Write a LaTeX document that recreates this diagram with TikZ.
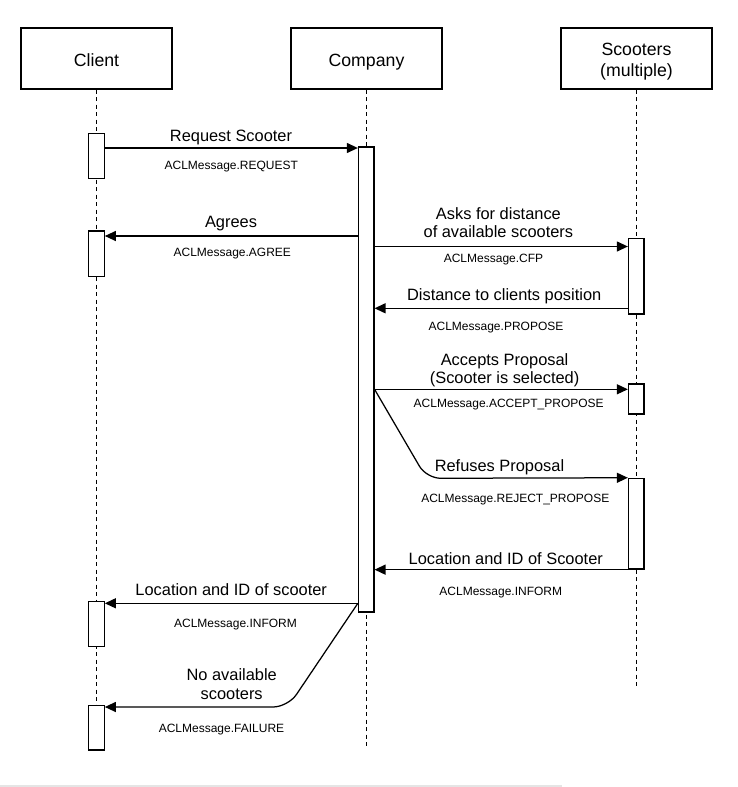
\documentclass[tikz,border=0pt]{standalone}
\usepackage{fontspec}
\setmainfont{Liberation Sans}
\usetikzlibrary{arrows.meta}
\begin{document}
\begin{tikzpicture}[x=1pt,y=-1pt,
  headbox/.style={draw=black,line width=1.2pt,fill=white,minimum width=151pt,minimum height=61pt,inner sep=0pt},
  htxt/.style={font=\fontsize{17.7}{21}\selectfont,inner sep=0pt,anchor=base,align=center},
  mtxt/.style={font=\fontsize{16.4}{18.3}\selectfont,inner sep=0pt,anchor=base,align=center},
  stxt/.style={font=\fontsize{12}{14}\selectfont,inner sep=0pt,anchor=base},
  life/.style={draw=black,line width=1.1pt,dash pattern=on 4pt off 3.5pt},
  act/.style={draw=black,line width=1.2pt,fill=white,minimum width=15.5pt,inner sep=0pt},
  msg/.style={draw=black,line width=1.25pt,-{Triangle[length=11pt,width=10pt]}},
]
\useasboundingbox (0,0) rectangle (738,787);
\fill[white] (0,0) rectangle (738,787);
\draw[black!10,line width=1.5pt] (0,786) -- (562,786);

% headers
\node[headbox] (client) at (96.5,58.5) {};
\node[headbox] (company) at (366.5,58.5) {};
\node[headbox] (scooters) at (636.5,58.5) {};
\node[htxt] (clientlbl) at (96.5,66.7) {Client};
\node[htxt] (companylbl) at (366.5,66.7) {Company};
\node[htxt] (scooterslbl) at (636.5,76) {Scooters\\(multiple)};

% lifeline ends
\coordinate (clientEnd) at (96.5,750);
\coordinate (companyEnd) at (366.2,748);
\coordinate (scootersEnd) at (636.2,688);
\draw[life] (client.south -| clientEnd) -- (clientEnd);
\draw[life] (company.south -| companyEnd) -- (companyEnd);
\draw[life] (scooters.south -| scootersEnd) -- (scootersEnd);

% activations
\node[act,minimum height=45.4pt] (cA1) at (96.5,156) {};
\node[act,minimum height=45.7pt] (cA2) at (96.5,253.8) {};
\node[act,minimum height=45pt] (cA3) at (96.5,624.2) {};
\node[act,minimum height=44.7pt] (cA4) at (96.5,727.7) {};
\node[act,minimum height=465pt] (coA) at (366.2,379.5) {};
\node[act,minimum height=75.7pt] (sA1) at (636.2,276.2) {};
\node[act,minimum height=30pt] (sA2) at (636.2,399) {};
\node[act,minimum height=90.7pt] (sA3) at (636.2,523.7) {};

% message rows
\coordinate (m1) at (0,148);
\coordinate (m2) at (0,236);
\coordinate (m3) at (0,246.5);
\coordinate (m4) at (0,308.3);
\coordinate (m5) at (0,389.3);
\coordinate (m8) at (0,603.3);
\coordinate (m9) at (0,707);
\coordinate (rejCorner) at (426.5,478.3);
\coordinate (failCorner) at (288,707);

% messages
\draw[msg] (cA1.east |- m1) -- (coA.west |- m1);
\draw[msg] (coA.west |- m2) -- (cA2.east |- m2);
\draw[msg] (coA.east |- m3) -- (sA1.west |- m3);
\draw[msg] (sA1.west |- m4) -- (coA.east |- m4);
\draw[msg] (coA.east |- m5) -- (sA2.west |- m5);
\draw[msg,rounded corners=14pt] (coA.east |- m5) -- (rejCorner) -- (sA3.north west);
\draw[msg] (sA3.south west) -- (coA.east |- sA3.south west);
\draw[msg] (coA.west |- m8) -- (cA3.east |- m8);
\draw[msg,rounded corners=15pt] (coA.west |- m8) -- (failCorner) -- (cA4.east |- m9);

% labels
\node[mtxt] (l1) at (231,141.7) {Request Scooter};
\node[stxt] (s1) at (231.3,169.3) {ACLMessage.REQUEST};
\node[mtxt] (l2) at (231,227.3) {Agrees};
\node[stxt] (s2) at (232.3,256) {ACLMessage.AGREE};
\node[mtxt] (l3) at (498.4,237.3) {Asks for distance\\of available scooters};
\node[stxt] (s3) at (493.5,262.3) {ACLMessage.CFP};
\node[mtxt] (l4) at (504.2,300) {Distance to clients position};
\node[stxt] (s4) at (496,330) {ACLMessage.PROPOSE};
\node[mtxt] (l5) at (504.6,383.3) {Accepts Proposal\\(Scooter is selected)};
\node[stxt] (s5) at (508.7,407.7) {ACLMessage.ACCEPT\_PROPOSE};
\node[mtxt] (l6) at (499.5,471) {Refuses Proposal};
\node[stxt] (s6) at (515.3,502) {ACLMessage.REJECT\_PROPOSE};
\node[mtxt] (l7) at (505.8,564) {Location and ID of Scooter};
\node[stxt] (s7) at (500.8,595.3) {ACLMessage.INFORM};
\node[mtxt] (l8) at (231.2,595) {Location and ID of scooter};
\node[stxt] (s8) at (235.5,627.3) {ACLMessage.INFORM};
\node[mtxt] (l9) at (231.7,699) {No available\\scooters};
\node[stxt] (s9) at (221.5,732.3) {ACLMessage.FAILURE};
\end{tikzpicture}
\end{document}
